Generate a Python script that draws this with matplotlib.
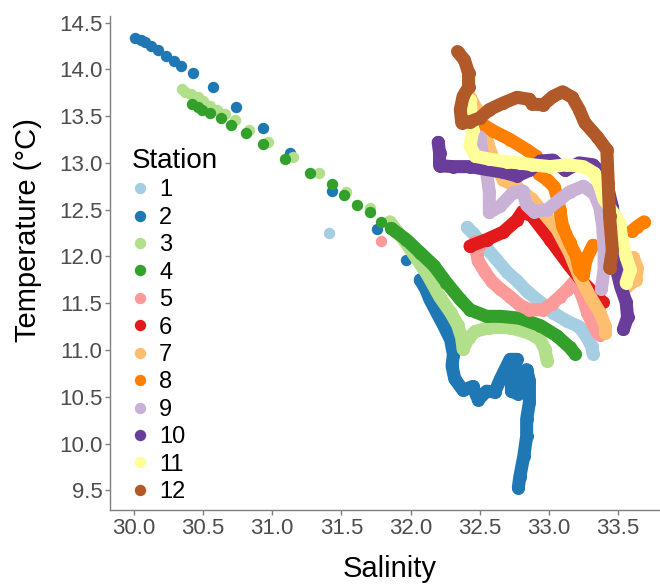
import numpy as np
import matplotlib
matplotlib.use("Agg")
import matplotlib.pyplot as plt
from matplotlib.lines import Line2D

nan = np.nan

stations = ["1", "2", "3", "4", "5", "6", "7", "8", "9", "10", "11", "12"]
colors = ['#a6cee3', '#1f78b4', '#b2df8a', '#33a02c', '#fb9a99', '#e31a1c',
          '#fdbf6f', '#ff7f00', '#cab2d6', '#6a3d9a', '#ffff99', '#b15928']

# --- isolated (sparse) samples ---
st1_dots_sal = [31.41]
st1_dots_temp = [12.25]
st2_dots_sal = [30.01, 30.05, 30.08, 30.12, 30.17, 30.23, 30.29, 30.34, 30.43, 30.57,
                30.74, 30.93, 31.13, 31.43, 31.76, 31.97]
st2_dots_temp = [14.33, 14.31, 14.29, 14.25, 14.21, 14.14, 14.09, 14.04, 13.96, 13.81,
                 13.60, 13.37, 13.11, 12.70, 12.29, 11.96]
st3_dots_sal = [30.35, 30.37, 30.41, 30.46, 30.50, 30.55, 30.60, 30.66, 30.73, 30.83,
                30.97, 31.15, 31.34, 31.53, 31.71]
st3_dots_temp = [13.79, 13.76, 13.74, 13.70, 13.66, 13.61, 13.56, 13.52, 13.46, 13.35,
                 13.22, 13.06, 12.89, 12.69, 12.52]
st4_dots_sal = [30.42, 30.46, 30.49, 30.55, 30.63, 30.70, 30.81, 30.93, 31.09, 31.27,
                31.43, 31.52, 31.61, 31.71, 31.79]
st4_dots_temp = [13.63, 13.60, 13.57, 13.53, 13.48, 13.41, 13.32, 13.20, 13.04, 12.89,
                 12.77, 12.66, 12.55, 12.47, 12.37]
st5_dots_sal = [31.79]
st5_dots_temp = [12.17]

# --- continuous profiles ---
st1_sal = [32.41, 32.45, 32.55, 32.62, 32.70, 32.77, 32.84, 32.94, 33.03, 33.13, 33.22,
           33.27, 33.31, 33.32]
st1_temp = [12.31, 12.25, 12.09, 11.97, 11.83, 11.74, 11.63, 11.51, 11.40, 11.31, 11.25,
            11.15, 11.04, 10.96]
st2_sal = [32.07, 32.11, 32.14, 32.19, 32.24, 32.29, 32.31, 32.30, 32.32, 32.38, 32.45,
           32.49, 32.55, 32.61, 32.65, 32.72, 32.77, 32.73, 32.73, 32.78, 32.80, 32.84,
           32.86, 32.86, 32.84, 32.84, 32.82, 32.79, 32.78]
st2_temp = [11.75, 11.65, 11.54, 11.40, 11.26, 11.11, 10.95, 10.83, 10.69, 10.57, 10.61,
            10.47, 10.56, 10.55, 10.69, 10.90, 10.90, 10.72, 10.56, 10.53, 10.69, 10.79,
            10.67, 10.44, 10.26, 10.08, 9.87, 9.64, 9.53]
st3_sal = [31.85, 31.95, 32.03, 32.12, 32.21, 32.29, 32.34, 32.37, 32.38, 32.42, 32.47,
           32.57, 32.72, 32.86, 32.94, 32.97, 32.99]
st3_temp = [12.37, 12.18, 12.01, 11.81, 11.57, 11.40, 11.27, 11.13, 11.01, 11.13, 11.20,
            11.24, 11.24, 11.18, 11.11, 11.01, 10.88]
st4_sal = [31.86, 31.97, 32.07, 32.17, 32.26, 32.36, 32.43, 32.55, 32.65, 32.79, 32.94,
           33.06, 33.15, 33.19]
st4_temp = [12.30, 12.18, 12.04, 11.90, 11.72, 11.54, 11.43, 11.36, 11.36, 11.34, 11.26,
            11.15, 11.03, 10.96]
st5_sal = [32.47, 32.50, 32.48, 32.49, 32.54, 32.59, 32.65, 32.72, 32.79, 32.86, 32.96,
           33.02, 33.08, 33.13, 33.19, 33.22, 33.25, 33.28, 33.31, 33.35, 33.37]
st5_temp = [12.16, 12.12, 12.02, 11.95, 11.83, 11.73, 11.65, 11.57, 11.48, 11.43, 11.43,
            11.49, 11.57, 11.64, 11.74, 11.65, 11.54, 11.40, 11.30, 11.19, 11.16]
st6_sal = [32.43, 32.55, 32.67, 32.77, 32.81, 32.88, 33.01, 33.15, 33.25, 33.33, 33.39]
st6_temp = [12.11, 12.18, 12.26, 12.39, 12.48, 12.43, 12.18, 11.90, 11.72, 11.60, 11.51]
st7_sal = [32.43, 32.48, 32.52, 32.56, 32.61, 32.67, 32.77, 32.88, 32.96, 33.06, 33.15,
           33.22, 33.30, 33.37, 33.41, 33.41, nan, 33.56, 33.63, 33.64, 33.61]
st7_temp = [13.70, 13.57, 13.41, 13.20, 13.00, 12.82, 12.74, 12.61, 12.47, 12.29, 12.04,
            11.79, 11.57, 11.40, 11.25, 11.18, nan, 11.67, 11.75, 11.88, 11.99]
st8_sal = [32.50, 32.60, 32.72, 32.84, 32.91, 32.94, 32.93, 32.99, 33.04, 33.06, 33.08,
           33.10, 33.15, 33.20, 33.22, 33.25, 33.27, 33.32, nan, 33.60, 33.64, 33.69]
st8_temp = [13.43, 13.34, 13.25, 13.14, 13.07, 12.96, 12.88, 12.82, 12.74, 12.64, 12.50,
            12.32, 12.15, 12.00, 11.86, 11.80, 11.97, 12.12, nan, 12.27, 12.32, 12.37]
st9_sal = [32.50, 32.52, 32.55, 32.57, 32.57, 32.65, 32.74, 32.81, 32.84, 32.89, 32.99,
           33.08, 33.15, 33.25, 33.33, 33.37, 33.39, 33.40, 33.40, 33.38]
st9_temp = [13.28, 13.09, 12.90, 12.69, 12.47, 12.54, 12.68, 12.70, 12.55, 12.48, 12.50,
            12.61, 12.69, 12.75, 12.67, 12.52, 12.32, 12.07, 11.86, 11.65]
st10_sal = [32.20, 32.21, 32.21, 32.31, 32.43, 32.55, 32.67, 32.77, 32.86, 32.94, 33.03,
            33.12, 33.22, 33.32, 33.39, 33.43, 33.46, 33.48, 33.48, 33.49, 33.52, 33.56,
            33.57, 33.54]
st10_temp = [13.22, 13.11, 12.97, 12.96, 12.96, 12.93, 12.90, 12.86, 12.92, 13.02, 13.03,
             12.92, 13.00, 12.98, 12.87, 12.71, 12.53, 12.29, 12.05, 11.86, 11.68, 11.51,
             11.35, 11.22]
st11_sal = [32.43, 32.44, 32.45, 32.43, 32.47, 32.57, 32.70, 32.79, 32.88, 33.01, 33.13,
            33.25, 33.33, 33.37, 33.40, 33.46, 33.51, 33.53, 33.56, 33.59, 33.56]
st11_temp = [13.67, 13.52, 13.35, 13.18, 13.07, 13.04, 13.01, 13.00, 12.98, 12.96, 12.98,
             12.96, 12.89, 12.75, 12.61, 12.48, 12.37, 12.18, 11.99, 11.86, 11.72]
st12_sal = [32.34, 32.39, 32.42, 32.42, 32.38, 32.36, 32.37, 32.43, 32.50, 32.57, 32.67,
            32.77, 32.86, 32.88, 32.96, 33.03, 33.10, 33.17, 33.22, 33.26, 33.35, 33.42,
            33.43, 33.44, 33.46, 33.44]
st12_temp = [14.19, 14.10, 13.96, 13.81, 13.71, 13.57, 13.43, 13.44, 13.48, 13.57, 13.64,
             13.70, 13.68, 13.63, 13.62, 13.71, 13.76, 13.70, 13.57, 13.43, 13.28, 13.14,
             12.79, 12.43, 12.07, 11.88]

x_ticks = [30.0, 30.5, 31.0, 31.5, 32.0, 32.5, 33.0, 33.5]
y_ticks = [9.5, 10.0, 10.5, 11.0, 11.5, 12.0, 12.5, 13.0, 13.5, 14.0, 14.5]

dots = {
    "1": (st1_dots_sal, st1_dots_temp), "2": (st2_dots_sal, st2_dots_temp),
    "3": (st3_dots_sal, st3_dots_temp), "4": (st4_dots_sal, st4_dots_temp),
    "5": (st5_dots_sal, st5_dots_temp),
}
profiles = {
    "1": (st1_sal, st1_temp), "2": (st2_sal, st2_temp), "3": (st3_sal, st3_temp),
    "4": (st4_sal, st4_temp), "5": (st5_sal, st5_temp), "6": (st6_sal, st6_temp),
    "7": (st7_sal, st7_temp), "8": (st8_sal, st8_temp), "9": (st9_sal, st9_temp),
    "10": (st10_sal, st10_temp), "11": (st11_sal, st11_temp), "12": (st12_sal, st12_temp),
}

plt.rcParams['font.family'] = ['Liberation Sans', 'DejaVu Sans']

W, H = 660, 584
fig = plt.figure(figsize=(W / 100, H / 100), dpi=100)
ax = fig.add_axes([110 / W, 1 - 510 / H, 560 / W, 494 / H])

ms = 8.2
lw = 9.4
for st, col in zip(stations, colors):
    if st in dots:
        ds, dt = dots[st]
        ax.plot(ds, dt, ls='', marker='o', ms=ms, color=col, mew=0)
    ps, pt = profiles[st]
    ax.plot(ps, pt, ls='-', lw=lw, color=col, solid_capstyle='round',
            solid_joinstyle='round', marker='o', ms=lw, mew=0)

ax.set_xlim(29.826, 33.877)
ax.set_ylim(9.29, 14.57)
ax.set_xticks(x_ticks)
ax.set_yticks(y_ticks)
ax.set_xticklabels([f"{v:.1f}" for v in x_ticks])
ax.set_yticklabels([f"{v:.1f}" for v in y_ticks])

for side in ['top', 'right']:
    ax.spines[side].set_visible(False)
for side in ['left', 'bottom']:
    ax.spines[side].set_color('#7f7f7f')
    ax.spines[side].set_linewidth(1.0)
ax.tick_params(axis='both', colors='#7f7f7f', labelcolor='#4d4d4d', labelsize=16,
               length=3.6, width=1.0, direction='out', pad=1.8)

ax.set_xlabel("Salinity", fontsize=21, color='black', labelpad=12)
ax.set_ylabel("Temperature (°C)", fontsize=21, color='black')
ax.yaxis.set_label_coords(-0.121, 0.567)

handles = [Line2D([], [], ls='', marker='o', ms=ms, color=c, mew=0) for c in colors]
leg = ax.legend(handles, stations, title="Station", loc='upper left',
                bbox_to_anchor=(132 / W, 1 - 148 / H), bbox_transform=fig.transFigure,
                frameon=False, fontsize=17, title_fontsize=20, labelspacing=0.23,
                handlelength=0.7, handletextpad=0.45, borderpad=0, borderaxespad=0)
leg._legend_box.align = 'left'
leg._legend_box._children[1].set_offset  # keep default packing

fig.savefig("out.png", dpi=100)
